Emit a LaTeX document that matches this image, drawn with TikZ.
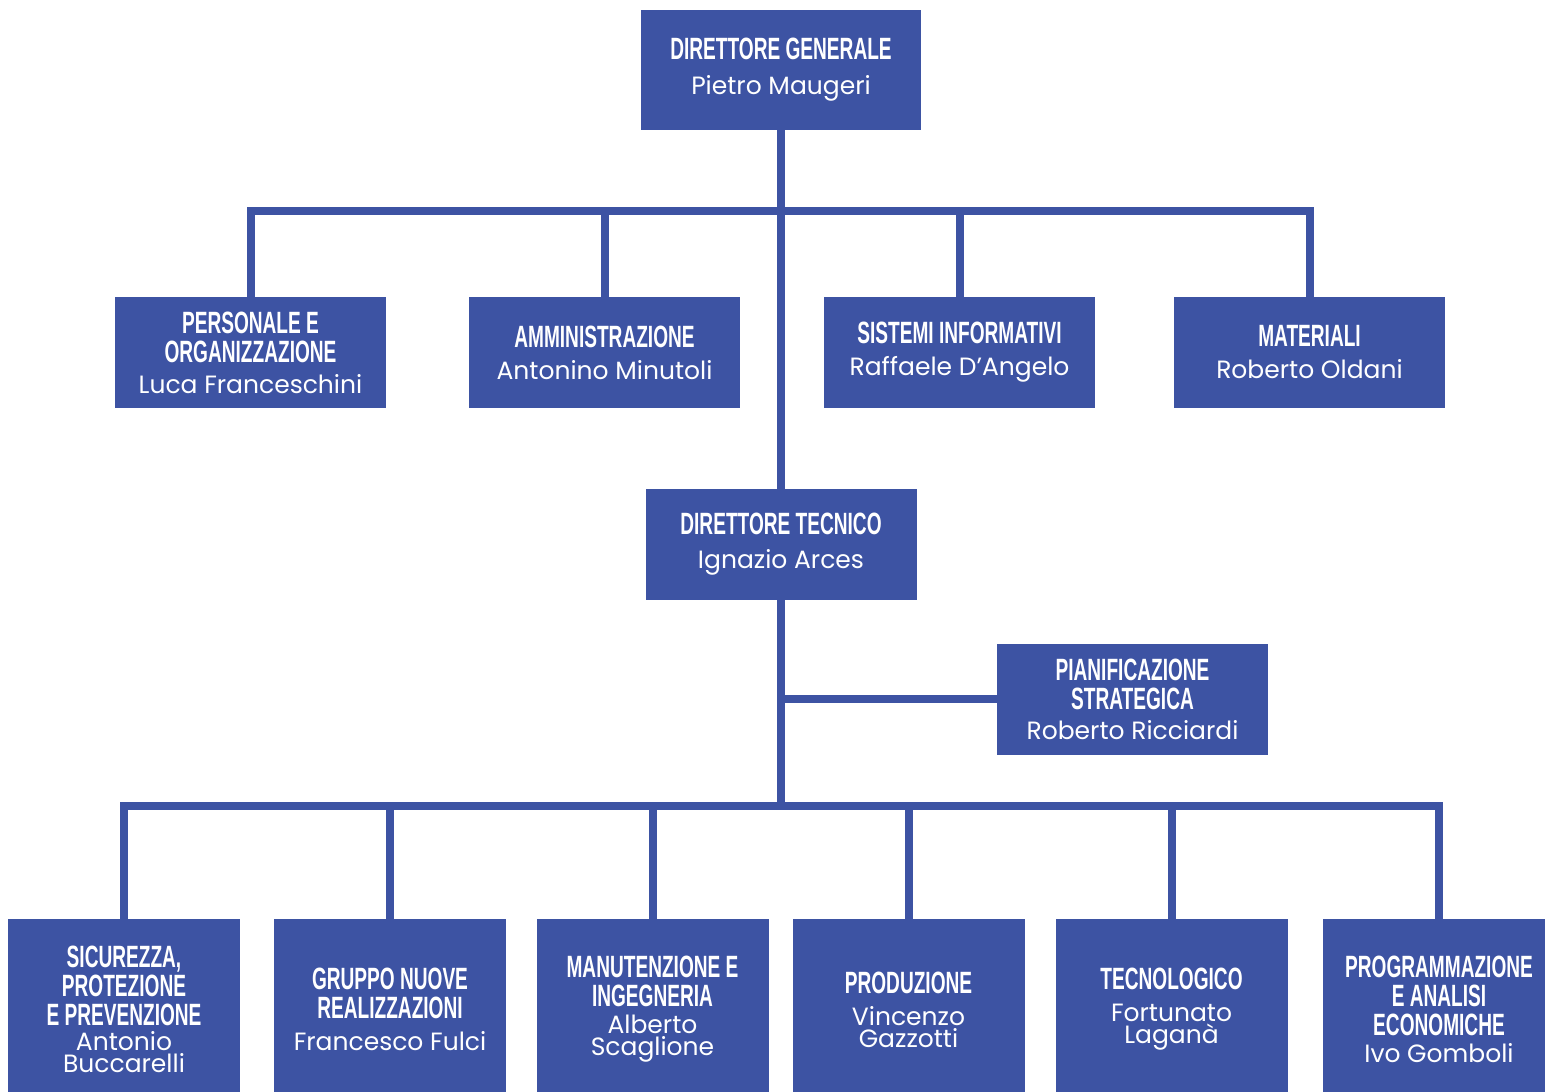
\documentclass[tikz,border=0pt]{standalone}
\usepackage{fontspec}
\newfontfamily\hdfont[FakeStretch=0.62]{Liberation Sans}
\newfontfamily\nmfont{Poppins}
\definecolor{orgblue}{HTML}{3D53A3}
\newcommand\nm[1]{{\nmfont\mdseries\fontsize{12.5}{14.5}\selectfont #1}}
\begin{document}
\begin{tikzpicture}[x=0.5pt,y=-0.5pt,
  unit/.style={fill=orgblue, text=white, align=center, inner sep=0pt,
    font=\hdfont\bfseries\fontsize{15.4}{14.5}\selectfont,
    minimum width=135.5pt, minimum height=55.5pt},
  topunit/.style={unit, minimum width=140pt, minimum height=60pt},
  lowunit/.style={unit, minimum width=116pt, minimum height=90.5pt},
  link/.style={draw=orgblue, line width=4pt}]
\useasboundingbox (0,0) rectangle (1545,1091);
\clip (0,0) rectangle (1545,1091);

% management
\node[topunit] (dg) at (781,70) {DIRETTORE GENERALE\\[3pt]\nm{Pietro Maugeri}};

% staff units
\node[unit] (per) at (250.5,352.5) {PERSONALE E\\ORGANIZZAZIONE\\[1pt]\nm{Luca Franceschini}};
\node[unit] (amm) at (604.5,352.5) {AMMINISTRAZIONE\\[1.5pt]\nm{Antonino Minutoli}};
\node[unit] (sis) at (959.5,352.5) {SISTEMI INFORMATIVI\\[1.5pt]\nm{Raffaele D’Angelo}};
\node[unit] (mat) at (1309.5,352.5) {MATERIALI\\[1.5pt]\nm{Roberto Oldani}};

% technical direction
\node[unit] (dt) at (781,544.5) {DIRETTORE TECNICO\\[2.5pt]\nm{Ignazio Arces}};
\node[unit] (pian) at (1132.5,699) {PIANIFICAZIONE\\STRATEGICA\\[0.5pt]\nm{Roberto Ricciardi}};

% operating units
\node[lowunit] (sic) at (124,1009.5) {SICUREZZA,\\PROTEZIONE\\E PREVENZIONE\\[-2pt]\nm{Antonio}\\[-3.5pt]\nm{Buccarelli}};
\node[lowunit] (gru) at (390,1009.5) {GRUPPO NUOVE\\REALIZZAZIONI\\[1.5pt]\nm{Francesco Fulci}};
\node[lowunit] (man) at (652.5,1009.5) {MANUTENZIONE E\\INGEGNERIA\\[-1pt]\nm{Alberto}\\[-3.5pt]\nm{Scaglione}};
\node[lowunit] (pro) at (908.5,1009.5) {PRODUZIONE\\[1.5pt]\nm{Vincenzo}\\[-3.5pt]\nm{Gazzotti}};
\node[lowunit] (tec) at (1171.5,1009.5) {TECNOLOGICO\\[1.5pt]\nm{Fortunato}\\[-3.5pt]\nm{Laganà}};
\node[lowunit] (prg) at (1439,1009.5) {PROGRAMMAZIONE\\E ANALISI\\ECONOMICHE\\[-1pt]\nm{Ivo Gomboli}};

% connectors
\coordinate (hubA) at (781,211);
\coordinate (hubB) at (781,805.5);
\draw[link] (dg.south) -- (dt.north);
\draw[link] (per.north) |- (hubA) -| (mat.north);
\draw[link] (amm.north) -- (amm.north |- hubA);
\draw[link] (sis.north) -- (sis.north |- hubA);
\draw[link] (dt.south) -- (hubB);
\draw[link] (pian.west) -- (pian.west -| dt.south);
\draw[link] (sic.north) |- (hubB) -| (prg.north);
\foreach \u in {gru,man,pro,tec}
  \draw[link] (\u.north) -- (\u.north |- hubB);
\end{tikzpicture}
\end{document}
